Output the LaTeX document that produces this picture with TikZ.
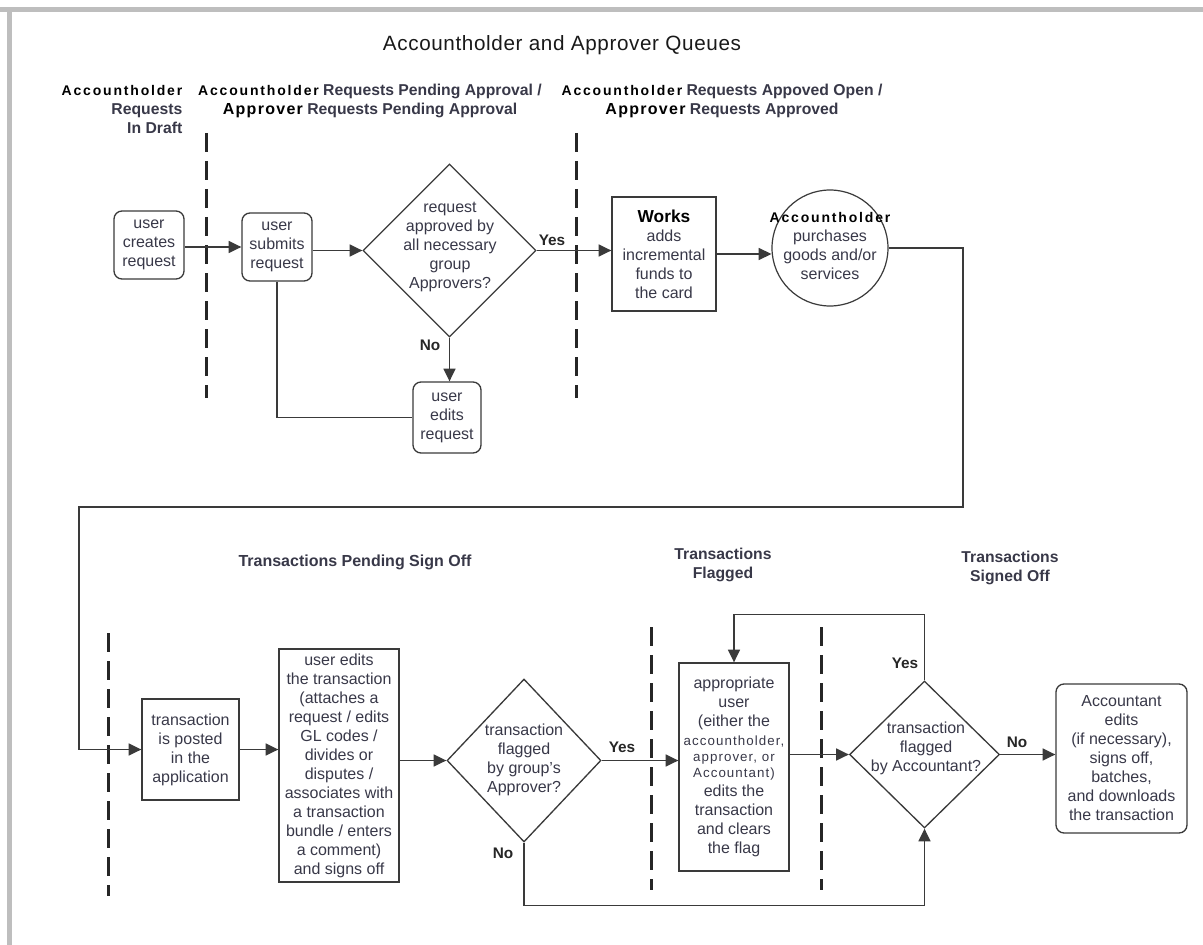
\documentclass[tikz,border=0pt]{standalone}
\usepackage{fontspec}
\setmainfont{Liberation Sans}
\usetikzlibrary{arrows.meta,shapes.geometric}
\definecolor{inkgrey}{HTML}{383848}
\definecolor{linegrey}{HTML}{3A3A3A}
\definecolor{framegrey}{HTML}{BEBEBE}
\newcommand{\wide}[1]{{\bfseries\fontsize{10.5}{14.25}\selectfont\addfontfeature{LetterSpace=13}\color{black}#1}}
\newcommand{\apv}[1]{{\bfseries\fontsize{12}{14.25}\selectfont\addfontfeature{LetterSpace=8}\color{black}#1}}
\newcommand{\spaced}[1]{{\fontsize{10}{12.75}\selectfont\addfontfeature{LetterSpace=8}#1}}

\begin{document}
\begin{tikzpicture}[x=0.75pt,y=-0.75pt,
  font=\fontsize{12}{14.25}\selectfont,text=inkgrey,
  box/.style={draw=linegrey,line width=1pt,align=center,inner sep=0pt},
  rbox/.style={box,rounded corners=6pt},
  dia/.style={diamond,draw=linegrey,line width=1pt,inner sep=0pt},
  hdr/.style={font=\bfseries\fontsize{11.8}{14.25}\selectfont,align=center},
  yn/.style={font=\bfseries\fontsize{11.5}{14}\selectfont,text=black!85},
  lane/.style={line width=2.25pt,dash pattern=on 14.25pt off 6.75pt,draw=black!85},
  ln/.style={line width=1.1pt,draw=linegrey},
  arr/.style={ln,-{Triangle[length=9.5pt,width=9pt]}}]
  \useasboundingbox (0,0) rectangle (1203,945);
  \fill[framegrey] (0,7) rectangle (1203,12);
  \fill[framegrey] (7,12) rectangle (12,945);

  \node[font=\fontsize{15.5}{18}\selectfont,text=black!90] (title) at (562,45) {\addfontfeature{LetterSpace=3}Accountholder and Approver Queues};
  \node[hdr,align=right,anchor=east] (hq1) at (187,109.5) {\wide{Accountholder}\\Requests\\In Draft};
  \node[hdr] (hq2) at (370,100.5) {\wide{Accountholder} Requests Pending Approval /\\\apv{Approver} Requests Pending Approval};
  \node[hdr] (hq3) at (722,100.5) {\wide{Accountholder} Requests Appoved Open /\\\apv{Approver} Requests Approved};
  \node[hdr,font=\bfseries\fontsize{12}{14.25}\selectfont] (hs1) at (355,562) {Transactions Pending Sign Off};
  \node[hdr] (hs2) at (723,565) {Transactions\\Flagged};
  \node[hdr] (hs3) at (1010,567.5) {Transactions\\Signed Off};

  \foreach \x/\ya/\yb in {206/133/398,576/133/398,108/633/896,651/627/890,821/627/890}
    \draw[lane] (\x,\ya) -- (\x,\yb);

  \node[rbox,minimum width=52.5pt,minimum height=51pt] (cr) at (149,245) {user\\creates\\request};
  \node[rbox,minimum width=52.5pt,minimum height=51pt] (sb) at (277,247) {user\\submits\\request};
  \node[dia,minimum width=129.75pt,minimum height=129.75pt] (q1) at (449.5,250.5) {};
  \node[align=center] (q1t) at (450,247) {request\\approved by\\all necessary\\group\\Approvers?};
  \node[rbox,minimum width=51pt,minimum height=53.25pt] (ed) at (447,417.5) {user\\edits\\request};
  \node[box,minimum width=78pt,minimum height=85.5pt] (wk) at (664,254) {{\bfseries\fontsize{13}{14.25}\selectfont\color{black}Works}\\adds\\incremental\\funds to\\the card};
  \node[circle,draw=linegrey,line width=0.9pt,minimum size=87pt,inner sep=0pt] (ah) at (830,248) {};
  \node[align=center] (aht) at (830,246) {\wide{Accountholder}\\purchases\\goods and/or\\services};

  \node[box,minimum width=72.75pt,minimum height=75.75pt] (tp) at (190.5,749.5) {transaction\\is posted\\in the\\application};
  \node[box,minimum width=90pt,minimum height=174.75pt] (et) at (339,765.5) {user edits\\the transaction\\(attaches a\\request / edits\\GL codes /\\divides or\\disputes /\\associates with\\a transaction\\bundle / enters\\a comment)\\and signs off};
  \node[dia,minimum width=115.5pt,minimum height=122.25pt] (q2) at (524,760.5) {};
  \node[align=center] (q2t) at (524,760) {transaction\\flagged\\by group's\\Approver?};
  \node[box,minimum width=82.5pt,minimum height=156pt] (au) at (734,767) {appropriate\\user\\(either the\\\spaced{accountholder,}\\[-2.25pt]\spaced{approver, or}\\[-2.25pt]\spaced{Accountant)}\\edits the\\transaction\\and clears\\the flag};
  \node[dia,minimum width=112.5pt,minimum height=110.25pt] (q3) at (924.5,754.5) {};
  \node[align=center] (q3t) at (926,748) {transaction\\flagged\\by Accountant?};
  \node[rbox,minimum width=98.25pt,minimum height=111.75pt] (fin) at (1121.5,758.5) {Accountant\\edits\\(if necessary),\\signs off,\\batches,\\and downloads\\the transaction};

  \node[yn] (y1) at (552,240) {Yes};
  \node[yn] (n1) at (430,345) {No};
  \node[yn] (y2) at (622,747) {Yes};
  \node[yn] (n2) at (503,853) {No};
  \node[yn] (y3) at (905,663) {Yes};
  \node[yn] (n3) at (1017,742) {No};

  \coordinate (turnR) at (963,507);
  \coordinate (turnL) at (79,507);
  \draw[arr] (cr.east |- sb) -- (sb.west);
  \draw[arr] (sb.east |- q1) -- (q1.west);
  \draw[arr] (q1.south) -- (q1.south |- ed.north);
  \draw[ln] (sb.south) |- (ed.west);
  \draw[arr] (q1.east) -- (q1.east -| wk.west);
  \draw[arr] (wk.east) -- (wk.east -| ah.west);
  \draw[arr] (ah.east) -| (turnR) -- (turnL) |- (tp.west);
  \draw[arr] (tp.east) -- (tp.east -| et.west);
  \draw[arr] (et.east |- q2) -- (q2.west);
  \draw[arr] (q2.east) -- (q2.east -| au.west);
  \draw[arr] (au.east |- q3) -- (q3.west);
  \draw[arr] (q3.east) -- (q3.east -| fin.west);
  \draw[arr] (q3.north) -- ++(0,-66) -| (au.north);
  \draw[arr] (q2.south) -- ++(0,63) -| (q3.south);
\end{tikzpicture}
\end{document}
